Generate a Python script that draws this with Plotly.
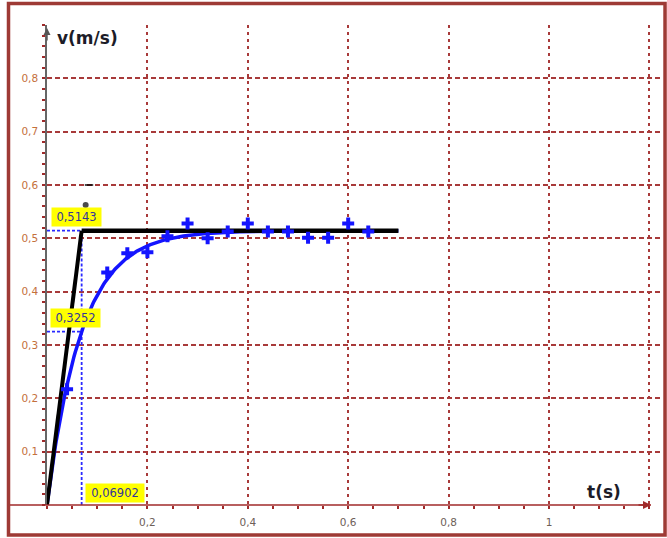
import numpy as np
import plotly.graph_objects as go

# Measured speed of the body (s, m/s)
t_meas = [0.04, 0.12, 0.16, 0.20, 0.24, 0.28, 0.32, 0.36, 0.40, 0.44, 0.48, 0.52, 0.56, 0.60, 0.64]
v_meas = [0.217, 0.436, 0.472, 0.474, 0.504, 0.528, 0.500, 0.513, 0.528, 0.513, 0.513, 0.501, 0.501, 0.528, 0.513]

# Exponential model v(t) = v_lim * (1 - exp(-t / tau))
v_lim = 0.5143
tau = 0.06902
v_at_tau = 0.3252
t_asym_end = 0.70

# Small pen marks left above the tangent
t_marks = [0.077, 0.0837]
v_marks = [0.5625, 0.600]
mark_symbols = ["circle", "line-ew"]

# Axis ticks
x_ticks = [0.2, 0.4, 0.6, 0.8, 1.0, 1.2]
x_tick_text = ["0,2", "0,4", "0,6", "0,8", "1", ""]
y_ticks = [0.1, 0.2, 0.3, 0.4, 0.5, 0.6, 0.7, 0.8]
y_tick_text = ["0,1", "0,2", "0,3", "0,4", "0,5", "0,6", "0,7", "0,8"]

X_MAX = 1.2211
Y_MAX = 0.9

GRID = "#a83a3a"
AXIS_RED = "#a02a2a"
BLUE = "#1414ff"
GUIDE_BLUE = "#2a2aff"
LABEL_BLUE = "#34349a"

t_fit = np.linspace(0, t_asym_end, 300)
v_fit = v_lim * (1 - np.exp(-t_fit / tau))

fig = go.Figure()

# dashed guides to the characteristic point
fig.add_trace(go.Scatter(x=[0, tau], y=[v_lim, v_lim], mode="lines",
                         line=dict(color=GUIDE_BLUE, width=1.8, dash="3px,2px"), hoverinfo="skip"))
fig.add_trace(go.Scatter(x=[0, tau, tau], y=[v_at_tau, v_at_tau, 0], mode="lines",
                         line=dict(color=GUIDE_BLUE, width=1.8, dash="3px,2px"), hoverinfo="skip"))
fig.add_trace(go.Scatter(x=[tau, tau], y=[v_at_tau, v_lim], mode="lines",
                         line=dict(color=GUIDE_BLUE, width=1.8, dash="3px,2px"), hoverinfo="skip"))

# fitted curve
fig.add_trace(go.Scatter(x=t_fit, y=v_fit, mode="lines",
                         line=dict(color=BLUE, width=3.5), hoverinfo="skip"))

# tangent at the origin and the asymptote
fig.add_trace(go.Scatter(x=[0, tau], y=[0, v_lim], mode="lines",
                         line=dict(color="black", width=4), hoverinfo="skip"))
fig.add_trace(go.Scatter(x=[tau, t_asym_end], y=[v_lim, v_lim], mode="lines",
                         line=dict(color="black", width=4.5), hoverinfo="skip"))
fig.add_trace(go.Scatter(x=t_marks, y=v_marks, mode="markers",
                         marker=dict(symbol=mark_symbols, size=[4, 6], color="black",
                                     line=dict(color="black", width=2)),
                         hoverinfo="skip"))

# measurements
fig.add_trace(go.Scatter(x=t_meas, y=v_meas, mode="markers",
                         marker=dict(symbol="cross", size=10, color=BLUE, line=dict(width=0)),
                         cliponaxis=False))

label_font = dict(family="DejaVu Sans", size=11.5, color=LABEL_BLUE)
annotations = [
    dict(x=0, y=v_lim, xref="x", yref="y", text="0,5143", showarrow=False,
         xanchor="left", yanchor="middle", xshift=4, yshift=13.5,
         bgcolor="#ffff00", width=47, height=16, font=label_font),
    dict(x=0, y=v_at_tau, xref="x", yref="y", text="0,3252", showarrow=False,
         xanchor="left", yanchor="middle", xshift=3, yshift=14,
         bgcolor="#ffff00", width=47, height=16, font=label_font),
    dict(x=tau, y=0, xref="x", yref="y", text="0,06902", showarrow=False,
         xanchor="left", yanchor="middle", xshift=3.5, yshift=12,
         bgcolor="#ffff00", width=56, height=16, font=label_font),
    # axis titles
    dict(x=0.0653, y=0.973, xref="paper", yref="paper", text="<b>v(m/s)</b>",
         showarrow=False, xanchor="center", yanchor="middle",
         font=dict(family="DejaVu Sans", size=17, color="#1c1c28")),
    dict(x=0.9086, y=0.028, xref="paper", yref="paper", text="<b>t(s)</b>",
         showarrow=False, xanchor="center", yanchor="middle",
         font=dict(family="DejaVu Sans", size=17, color="#1c1c28")),
    # axis arrowheads
    dict(x=0.9853, y=0, xref="paper", yref="paper", ax=-14, ay=0, text="",
         showarrow=True, arrowhead=2, arrowsize=1, arrowwidth=1.6, arrowcolor=AXIS_RED),
    dict(x=0, y=0.9937, xref="paper", yref="paper", ax=0, ay=14, text="",
         showarrow=True, arrowhead=2, arrowsize=1, arrowwidth=1.4, arrowcolor="#555555"),
]

shapes = [
    # horizontal axis running across the whole frame
    dict(type="line", xref="paper", yref="paper", x0=-0.063, x1=0.9853, y0=0, y1=0,
         line=dict(color=AXIS_RED, width=1.6), layer="above"),
    # outer frame
    dict(type="rect", xref="paper", yref="paper", x0=-0.0628, x1=1.0082, y0=-0.0625, y1=1.0448,
         line=dict(color="#9e3a35", width=3.5), layer="above"),
]

fig.update_layout(
    width=667, height=538,
    margin=dict(l=47, r=7, t=25, b=33),
    paper_bgcolor="white", plot_bgcolor="white",
    showlegend=False,
    annotations=annotations,
    shapes=shapes,
    xaxis=dict(
        range=[0, X_MAX], tickvals=x_ticks, ticktext=x_tick_text,
        showgrid=True, gridcolor=GRID, gridwidth=1.6, griddash="3px,4px",
        zeroline=False, showline=False,
        ticks="outside", ticklen=3, tickwidth=1.5, tickcolor=AXIS_RED,
        ticklabelstandoff=4,
        tickfont=dict(family="DejaVu Sans", size=10.5, color="#6e6058"),
        minor=dict(dtick=0.05, tick0=0, ticks="outside", ticklen=3, tickwidth=1.5,
                   tickcolor=AXIS_RED, showgrid=False),
        fixedrange=True,
    ),
    yaxis=dict(
        range=[0, Y_MAX], tickvals=y_ticks, ticktext=y_tick_text,
        showgrid=True, gridcolor=GRID, gridwidth=1.6, griddash="5px,3px",
        zeroline=False, showline=True, linecolor="#666666", linewidth=1.5,
        ticks="outside", ticklen=3, tickwidth=1.5, tickcolor=AXIS_RED,
        ticklabelstandoff=2,
        tickfont=dict(family="DejaVu Sans", size=10.5, color="#c4703c"),
        minor=dict(dtick=0.02, tick0=0, ticks="outside", ticklen=3, tickwidth=1.5,
                   tickcolor=AXIS_RED, showgrid=False),
        fixedrange=True,
    ),
)

fig.write_html("out.html")
